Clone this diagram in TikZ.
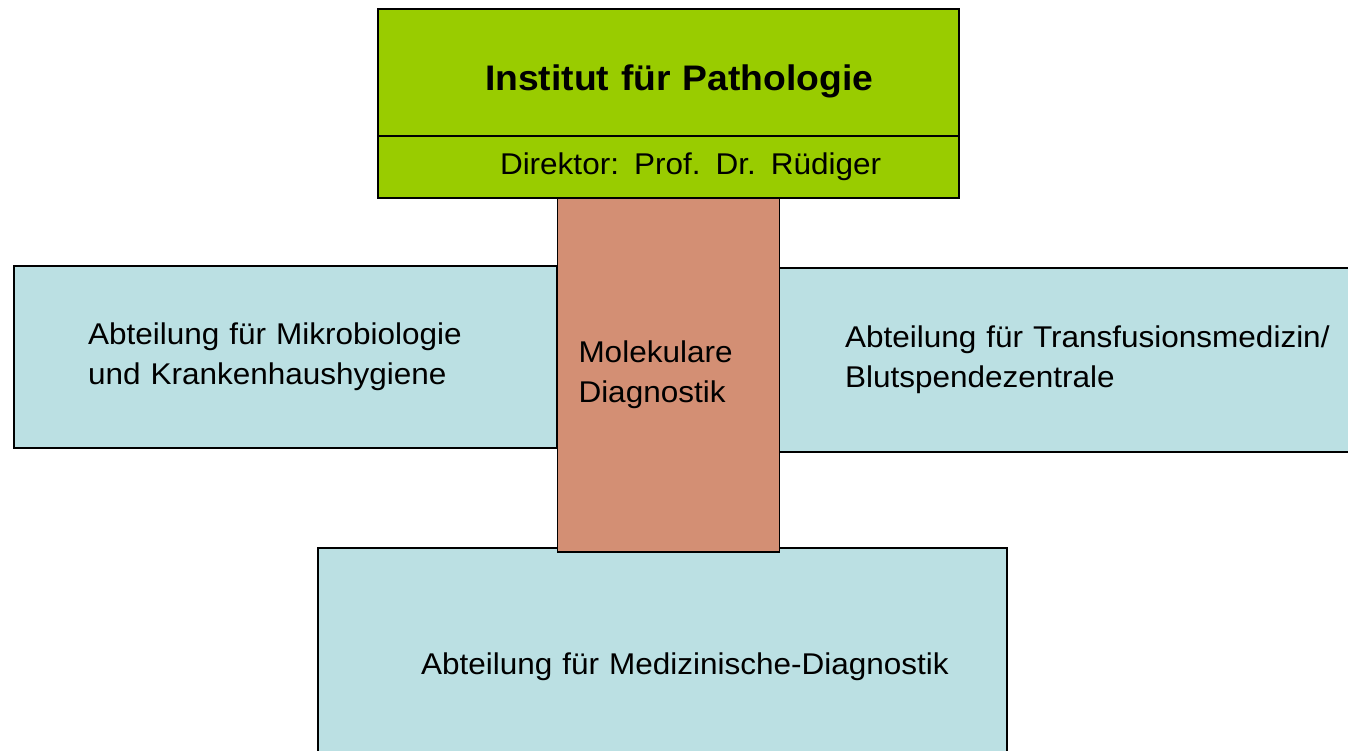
\documentclass[tikz,border=0pt]{standalone}
\usepackage{fontspec}
\setmainfont{Liberation Sans}[FakeStretch=1.05]
\usetikzlibrary{positioning}
\definecolor{headgreen}{HTML}{99CC00}
\definecolor{molsalmon}{HTML}{D38F74}
\definecolor{deptblue}{HTML}{BBE0E3}

\begin{document}
\begin{tikzpicture}[x=1pt,y=-1pt,line width=1.7pt,
                    box/.style={draw,rectangle,outer sep=0pt,inner ysep=0pt,align=left,
                                font=\fontsize{30}{40}\selectfont},
                    head node/.style={box,fill=headgreen},
                    dept node/.style={box,fill=deptblue},
                    mol node/.style={box,fill=molsalmon}]
  \useasboundingbox (0,0) rectangle (1348,750);

  \node[head node,anchor=north west,minimum height=127pt,inner xsep=107pt,text width=367pt,
        text height=36pt,text depth=0pt,
        font=\fontsize{35.5}{40}\selectfont\bfseries] (inst) at (378,9)
        {\mbox{Institut für Pathologie}};
  \node[head node,minimum height=62pt,inner xsep=122pt,text width=337pt] (dir) [below=0pt of inst]
        {\mbox{Direktor: Prof. Dr. Rüdiger}};

  \node[dept node,anchor=north west,minimum height=182pt,inner xsep=74pt,text width=395pt] (mikro) at (14,266)
        {Abteilung für Mikrobiologie\\und Krankenhaushygiene};
  \node[dept node,anchor=north west,minimum height=184pt,inner xsep=66pt,text width=509pt] (trans) at (779,268)
        {\mbox{Abteilung für Transfusionsmedizin/}\\Blutspendezentrale};
  \node[dept node,anchor=north west,minimum height=238pt,inner xsep=103pt,text width=483pt] (medi) at (318,548)
        {\mbox{Abteilung für Medizinische-Diagnostik}};

  \node[mol node,minimum height=354pt,inner xsep=21pt,text width=180pt] (mol) [below=0pt of dir]
        {Molekulare\\Diagnostik};
\end{tikzpicture}
\end{document}
